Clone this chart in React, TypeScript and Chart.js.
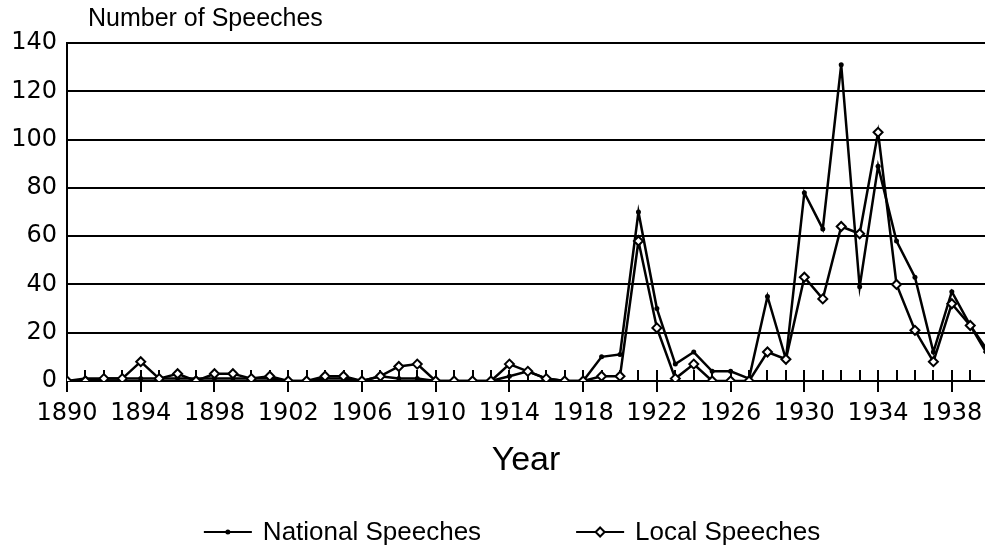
import React, { useEffect, useRef } from "react";
import { Chart, registerables } from "chart.js";

Chart.register(...registerables);

const years = [
  1890, 1891, 1892, 1893, 1894, 1895, 1896, 1897, 1898, 1899,
  1900, 1901, 1902, 1903, 1904, 1905, 1906, 1907, 1908, 1909,
  1910, 1911, 1912, 1913, 1914, 1915, 1916, 1917, 1918, 1919,
  1920, 1921, 1922, 1923, 1924, 1925, 1926, 1927, 1928, 1929,
  1930, 1931, 1932, 1933, 1934, 1935, 1936, 1937, 1938, 1939,
  1940,
];

const nationalSpeeches = [
  0, 1, 1, 1, 1, 1, 1, 1, 1, 1,
  1, 1, 0, 0, 1, 1, 0, 2, 1, 1,
  0, 0, 0, 0, 2, 4, 1, 0, 0, 10,
  11, 70, 30, 7, 12, 4, 4, 1, 35, 9,
  78, 63, 131, 39, 89, 58, 43, 12, 37, 23,
  10,
];

const localSpeeches = [
  0, 0, 1, 1, 8, 1, 3, 0, 3, 3,
  1, 2, 0, 0, 2, 2, 0, 2, 6, 7,
  0, 0, 0, 0, 7, 4, 1, 0, 0, 2,
  2, 58, 22, 1, 7, 0, 0, 0, 12, 9,
  43, 34, 64, 61, 103, 40, 21, 8, 32, 23,
  12,
];

const xTickYears = [1890, 1894, 1898, 1902, 1906, 1910, 1914, 1918, 1922, 1926, 1930, 1934, 1938];
const seriesNames = ["National Speeches", "Local Speeches"];
const yAxisTitle = "Number of Speeches";
const xAxisTitle = "Year";

const FONT = "'DejaVu Sans', 'Liberation Sans', sans-serif";
const FONT2 = "'Liberation Sans', Arial, sans-serif";

const xTickMarks = {
  id: "xTickMarks",
  beforeDatasetsDraw(chart: any) {
    const { ctx, scales } = chart;
    const x = scales.x;
    const y = scales.y;
    const y0 = y.getPixelForValue(0);
    ctx.save();
    ctx.strokeStyle = "#000";
    ctx.lineWidth = 2;
    years.forEach((yr) => {
      const px = Math.round(x.getPixelForValue(yr));
      if (px > chart.width) return;
      const major = xTickYears.includes(yr);
      ctx.beginPath();
      ctx.moveTo(px, y0 - 11);
      ctx.lineTo(px, major ? y0 + 11 : y0);
      ctx.stroke();
    });
    ctx.restore();
  },
};

const textAndLegend = {
  id: "textAndLegend",
  afterDraw(chart: any) {
    const { ctx, chartArea } = chart;
    ctx.save();
    ctx.fillStyle = "#000";
    // y axis title (top-left)
    ctx.font = `25px ${FONT2}`;
    ctx.textAlign = "left";
    ctx.textBaseline = "middle";
    ctx.fillText(yAxisTitle, chartArea.left + 21, 19);
    // x axis title
    ctx.font = `34px ${FONT2}`;
    ctx.textAlign = "center";
    ctx.fillText(xAxisTitle, (chartArea.left + chartArea.right) / 2, 461);

    // legend
    ctx.font = `26px ${FONT2}`;
    const lineW = 48;
    const gap = 11;
    const itemGap = 95;
    const widths = seriesNames.map((n) => lineW + gap + ctx.measureText(n).width);
    const total = widths.reduce((a, b) => a + b, 0) + itemGap * (widths.length - 1);
    let sx = (chartArea.left + chartArea.right) / 2 - 14 - total / 2;
    const ly = 532;
    chart.data.datasets.forEach((ds: any, i: number) => {
      ctx.strokeStyle = "#000";
      ctx.lineWidth = 2;
      ctx.beginPath();
      ctx.moveTo(sx, ly);
      ctx.lineTo(sx + lineW, ly);
      ctx.stroke();
      const cx = sx + lineW / 2;
      if (ds.pointStyle === "rectRot") {
        const r = ds.pointRadius;
        ctx.beginPath();
        ctx.moveTo(cx, ly - r);
        ctx.lineTo(cx + r, ly);
        ctx.lineTo(cx, ly + r);
        ctx.lineTo(cx - r, ly);
        ctx.closePath();
        ctx.fillStyle = "#fff";
        ctx.fill();
        ctx.lineWidth = ds.pointBorderWidth;
        ctx.stroke();
      } else {
        ctx.beginPath();
        ctx.arc(cx, ly, ds.pointRadius, 0, Math.PI * 2);
        ctx.fillStyle = "#000";
        ctx.fill();
      }
      ctx.fillStyle = "#000";
      ctx.textAlign = "left";
      ctx.textBaseline = "middle";
      ctx.fillText(ds.label, sx + lineW + gap, ly + 1);
      sx += widths[i] + itemGap;
    });
    ctx.restore();
  },
};

export default function App() {
  const canvasRef = useRef<HTMLCanvasElement | null>(null);

  useEffect(() => {
    document.body.style.margin = "0";
    document.body.style.overflow = "hidden";
    const canvas = canvasRef.current;
    if (!canvas) return;

    const chart = new Chart(canvas, {
      type: "line",
      data: {
        datasets: [
          {
            label: seriesNames[0],
            data: years.map((yr, i) => ({ x: yr, y: nationalSpeeches[i] })),
            borderColor: "#000",
            backgroundColor: "#000",
            borderWidth: 2.5,
            pointStyle: "circle",
            pointRadius: 2.5,
            pointBorderWidth: 0,
            pointBackgroundColor: "#000",
            pointBorderColor: "#000",
            tension: 0,
            fill: false,
            order: 1,
          },
          {
            label: seriesNames[1],
            data: years.map((yr, i) => ({ x: yr, y: localSpeeches[i] })),
            borderColor: "#000",
            backgroundColor: "#fff",
            borderWidth: 2.5,
            pointStyle: "rectRot",
            pointRadius: 4.5,
            pointBorderWidth: 2,
            pointBackgroundColor: "#fff",
            pointBorderColor: "#000",
            tension: 0,
            fill: false,
            order: 0,
          },
        ] as any,
      },
      options: {
        animation: false,
        responsive: false,
        maintainAspectRatio: false,
        layout: { autoPadding: false, padding: { top: 43, left: 0, right: 0, bottom: 0 } },
        plugins: {
          legend: { display: false },
          title: { display: false },
          tooltip: { enabled: false },
        },
        scales: {
          x: {
            type: "linear",
            min: 1890,
            max: 1939.8,
            grid: { display: false, drawTicks: false },
            border: { display: true, color: "#000", width: 2 },
            afterBuildTicks: (scale: any) => {
              scale.ticks = xTickYears.map((v) => ({ value: v }));
            },
            afterFit: (scale: any) => {
              scale.height = 169;
              scale.paddingLeft = 0;
              scale.paddingRight = 0;
            },
            ticks: {
              autoSkip: false,
              maxRotation: 0,
              padding: 18,
              color: "#000",
              font: { family: FONT, size: 24 },
              callback: (v: any) => String(v),
            },
          },
          y: {
            type: "linear",
            min: 0,
            max: 140,
            grid: { color: "#000", lineWidth: 2, drawTicks: false },
            border: { display: true, color: "#000", width: 2 },
            afterFit: (scale: any) => {
              scale.width = 67;
            },
            ticks: {
              stepSize: 20,
              padding: 10,
              color: "#000",
              font: { family: FONT, size: 24 },
              callback: (v: any) => String(v),
            },
          },
        },
      } as any,
      plugins: [xTickMarks, textAndLegend],
    });

    return () => chart.destroy();
  }, []);

  return (
    <div style={{ width: 985, height: 550 }}>
      <canvas ref={canvasRef} width={985} height={550} />
    </div>
  );
}
